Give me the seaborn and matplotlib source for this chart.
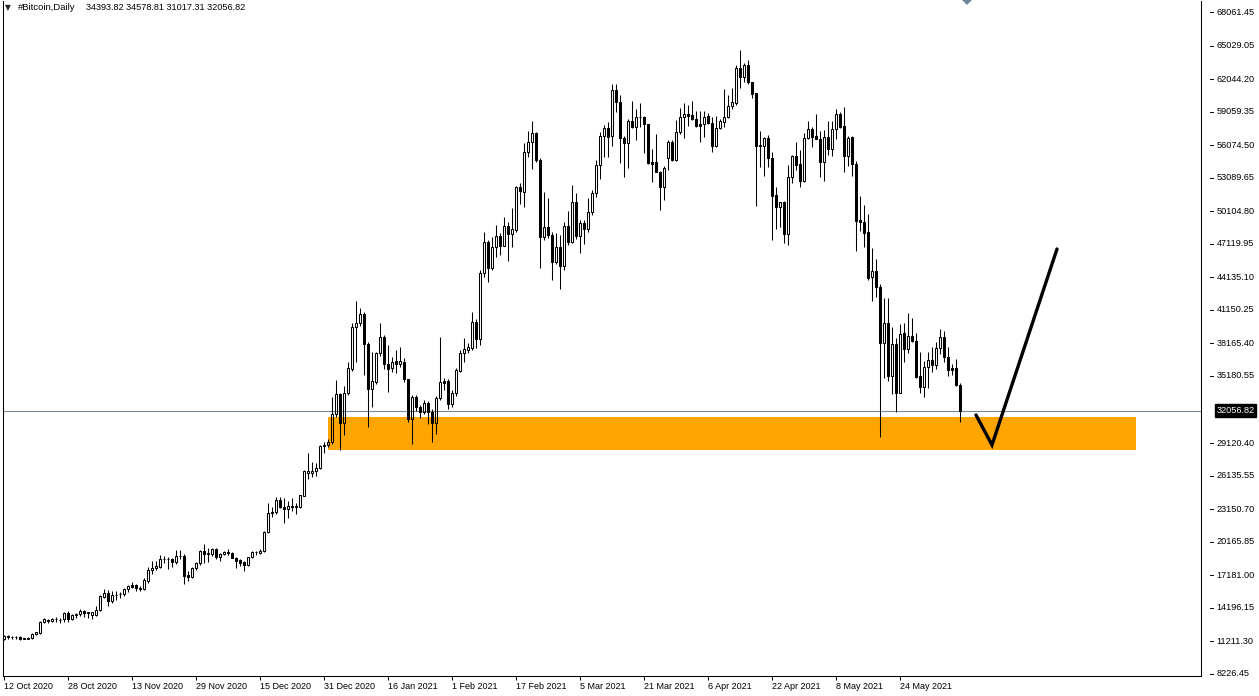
import numpy as np
import matplotlib
matplotlib.use("Agg")
import matplotlib.pyplot as plt
import matplotlib.transforms as mtransforms
from matplotlib.patches import Polygon
import seaborn as sns

# daily candles, day 0 = 12 Oct 2020
opens = [11350, 11650, 11580, 11543, 11604, 11420, 11420, 11453, 11815, 11905,
         12900, 13150, 12980, 13201, 13150, 13171, 13714, 13201, 13600, 13624,
         13955, 13774, 13563, 13563, 14016, 15222, 15583, 14830, 15372, 15433,
         15433, 15915, 16277, 16277, 16036, 15885, 16669, 17634, 17784, 17935,
         18628, 18640, 18598, 18387, 18900, 18900, 17181, 17031, 17784, 18236,
         19382, 19081, 19081, 19503, 18779, 19081, 19292, 19201, 18749, 18538,
         18387, 18086, 18779, 19231, 19201, 19382, 21101, 22759, 22850, 23965,
         23362, 23121, 23422, 23362, 23362, 24357, 26437, 26377, 26618, 26829,
         28849, 28940, 29181, 31744, 33523, 30960, 33673, 35784, 39583, 39945,
         40789, 38045, 33975, 34668, 37231, 38678, 36236, 35874, 36538, 36236,
         36477, 34880, 31261, 33312, 32347, 31955, 32709, 31955, 30960, 33161,
         34729, 34729, 32618, 33613, 35663, 37231, 37532, 37683, 40035, 38497,
         44527, 47271, 44919, 46879, 47844, 46969, 48748, 48025, 48387, 52306,
         51854, 55412, 56316, 57130, 54718, 47784, 48688, 47934, 45522, 46819,
         45160, 48748, 47331, 50889, 47844, 48989, 48447, 49985, 51763, 54266,
         56889, 57582, 56919, 61050, 59934, 56738, 56286, 58246, 57733, 58577,
         58577, 57944, 54507, 54507, 53603, 52306, 54869, 56316, 54718, 57221,
         58577, 58879, 58788, 58427, 57944, 57944, 58698, 58095, 56014, 57582,
         58185, 58577, 59602, 59844, 63009, 62256, 63311, 61743, 60748, 56014,
         56014, 56678, 54869, 51552, 50437, 50949, 48025, 53150, 55080, 54356,
         52849, 56678, 57492, 56889, 56647, 54567, 56768, 55713, 57492, 58848,
         57793, 55080, 56768, 54356, 49290, 49140, 48233, 44163, 44678, 43260,
         38194, 39948, 35180, 38075, 33671, 39040, 37593, 38799, 38374, 35180,
         34215, 35967, 36628, 36176, 37685, 38680, 36927, 35877, 35877, 34393.82]
highs = [11750, 11750, 11650, 11650, 11650, 11500, 11560, 11900, 12056, 13050,
         13262, 13200, 13250, 13352, 13262, 13865, 13955, 13624, 13774, 14076,
         14016, 13865, 13865, 14377, 15372, 15885, 15825, 15734, 15734, 15674,
         15975, 16277, 16578, 16367, 16186, 16880, 17935, 18478, 18448, 18990,
         18900, 18779, 18750, 19443, 19400, 19100, 17543, 17875, 18387, 19443,
         19955, 19593, 19593, 19593, 19201, 19382, 19503, 19292, 18840, 18629,
         18448, 18840, 19382, 19382, 19503, 21191, 23664, 23362, 24206, 24206,
         24116, 23905, 24116, 23724, 24417, 26678, 28186, 27432, 27300, 28940,
         29241, 29452, 33251, 34819, 33673, 34276, 36477, 40005, 41965, 41301,
         41000, 38300, 37382, 37382, 40005, 38900, 37985, 36930, 37532, 37834,
         36779, 34900, 33500, 33462, 32600, 33000, 32900, 32200, 33372, 38738,
         35000, 34900, 33900, 35900, 37532, 38588, 38136, 40940, 40300, 44768,
         48236, 47482, 47784, 48839, 48085, 49592, 49140, 50346, 52366, 52607,
         56226, 57371, 58246, 57281, 54900, 51854, 51251, 48236, 48085, 47934,
         49140, 50105, 52457, 51703, 49300, 49300, 51251, 52000, 54718, 57281,
         57884, 58185, 61592, 61592, 60597, 56900, 58396, 60055, 59301, 59844,
         58700, 58000, 55713, 57070, 53700, 54176, 56527, 56527, 58336, 59391,
         59844, 59693, 60055, 59150, 59150, 59150, 58939, 58637, 58698, 58396,
         61110, 60597, 61200, 63311, 64667, 63462, 63763, 61800, 60748, 57371,
         56828, 56979, 55472, 52306, 50950, 51000, 54266, 55170, 56376, 55622,
         57190, 58245, 57673, 58879, 57341, 57431, 58245, 58245, 59331, 59090,
         59542, 56889, 56900, 54627, 51462, 50648, 49805, 46730, 45764, 43475,
         42209, 42209, 39640, 38589, 39885, 39948, 40852, 40400, 39100, 37320,
         36565, 37380, 37830, 38283, 39432, 39250, 37830, 36300, 36690, 34578.81]
lows = [11300, 11400, 11420, 11400, 11300, 11350, 11350, 11420, 11760, 11880,
        12809, 12800, 12950, 12960, 12809, 12960, 12900, 13111, 13262, 13503,
        13413, 13262, 13201, 13503, 13955, 15071, 14377, 14679, 14920, 15071,
        15282, 15674, 15975, 15764, 15764, 15825, 16428, 17242, 17634, 17784,
        18297, 17694, 17935, 18200, 18600, 16337, 16600, 16940, 17600, 18086,
        18236, 18387, 18900, 18600, 18478, 18950, 19000, 18689, 17784, 18000,
        17573, 18000, 18689, 19000, 19100, 19292, 21000, 22458, 22700, 23200,
        21915, 22307, 23000, 22699, 23200, 24300, 25900, 26015, 26100, 26800,
        28200, 28800, 29000, 31500, 28487, 29844, 33500, 35600, 36477, 39700,
        35271, 30598, 32407, 34500, 37000, 35800, 33764, 35500, 35422, 36000,
        34600, 31050, 29000, 32000, 31400, 31700, 30809, 29241, 29935, 33000,
        33900, 32165, 32400, 33400, 35500, 36477, 37300, 37500, 37683, 37985,
        44165, 43713, 44800, 45975, 46125, 46900, 45613, 46879, 48236, 50738,
        50497, 54959, 53874, 54500, 44919, 47500, 47700, 43864, 45300, 43050,
        44768, 47000, 47200, 47600, 46336, 47090, 48200, 49700, 51401, 52969,
        55020, 55020, 55984, 59090, 54477, 53211, 53965, 57600, 56527, 57673,
        55321, 54356, 52758, 53600, 50196, 51100, 53814, 54600, 54600, 57100,
        56738, 57824, 58300, 57673, 56376, 56768, 58000, 55411, 55900, 57500,
        57673, 58500, 59331, 59700, 61200, 61803, 61600, 60300, 50587, 54115,
        53301, 54115, 47482, 48447, 48628, 47180, 47030, 52607, 53813, 52245,
        52758, 56587, 55924, 56600, 53210, 52849, 55170, 55110, 56587, 57580,
        53663, 54175, 53271, 46487, 48296, 46877, 43864, 41992, 42355, 29690,
        34973, 34700, 33526, 31897, 33600, 36420, 37231, 38300, 35030, 33610,
        33309, 34070, 35515, 35814, 37170, 36475, 35210, 35300, 34300, 31017.31]
closes = [11700, 11600, 11543, 11560, 11393, 11453, 11513, 11845, 11996, 12900,
          13201, 12980, 13201, 13180, 13111, 13714, 13201, 13563, 13624, 13955,
          13774, 13805, 13805, 14016, 15282, 15583, 14830, 15372, 15400, 15463,
          15915, 16186, 16126, 15975, 15885, 16729, 17634, 17845, 18025, 18628,
          18640, 18628, 18387, 18900, 18880, 17121, 17031, 17784, 18236, 19382,
          19081, 19201, 19503, 18779, 19081, 19292, 19141, 18749, 18478, 18297,
          18086, 18779, 19231, 19250, 19382, 21101, 22759, 22850, 23965, 23362,
          23121, 23422, 23362, 23422, 24417, 26618, 26588, 26618, 26829, 28849,
          28940, 29181, 31744, 33553, 30960, 33673, 35874, 39583, 40005, 40789,
          38045, 33975, 34759, 37291, 38678, 36236, 35814, 36477, 36236, 36538,
          34880, 31261, 33312, 32347, 31955, 32709, 31955, 30960, 33221, 34608,
          34518, 32618, 33613, 35724, 37291, 37593, 37834, 40035, 38497, 44527,
          47271, 44919, 46879, 47844, 46969, 48748, 48025, 48477, 52246, 51914,
          55472, 56316, 57130, 54718, 47784, 48688, 47934, 45522, 46819, 45160,
          48748, 47331, 50889, 47844, 48989, 48447, 49985, 51763, 54266, 56889,
          57582, 56828, 61050, 59934, 56678, 56286, 58246, 57733, 58577, 58600,
          57944, 54417, 54356, 53663, 52306, 54025, 56316, 54718, 57221, 58577,
          58879, 58698, 58427, 57824, 57824, 58637, 58095, 56014, 57582, 58246,
          58577, 59602, 59934, 63009, 62256, 63311, 61743, 60658, 56014, 56074,
          56678, 54869, 51462, 50437, 50889, 48025, 53150, 55080, 54266, 52849,
          56678, 57492, 56828, 56647, 54567, 56768, 55713, 57492, 58848, 57733,
          55080, 56738, 54356, 49200, 49140, 48142, 44017, 44678, 43202, 38194,
          39948, 35180, 38075, 33671, 38980, 37593, 38799, 38374, 35119, 34215,
          35967, 36628, 36176, 37685, 38680, 36927, 35724, 35724, 34367, 32056.82]

date_labels = ["12 Oct 2020", "28 Oct 2020", "13 Nov 2020", "29 Nov 2020",
               "15 Dec 2020", "31 Dec 2020", "16 Jan 2021", "1 Feb 2021",
               "17 Feb 2021", "5 Mar 2021", "21 Mar 2021", "6 Apr 2021",
               "22 Apr 2021", "8 May 2021", "24 May 2021"]
date_label_days = [0, 16, 32, 48, 64, 80, 96, 112, 128, 144, 160, 176, 192, 208, 224]

price_labels = [68061.45, 65029.05, 62044.20, 59059.35, 56074.50, 53089.65,
                50104.80, 47119.95, 44135.10, 41150.25, 38165.40, 35180.55,
                29120.40, 26135.55, 23150.70, 20165.85, 17181.00, 14196.15,
                11211.30, 8226.45]

symbol = "#Bitcoin,Daily"
last_price = 32056.82

# support zone and the drawn projection
zone_days = [81, 283]
zone_prices = [28487, 31473]
path_days = [243, 247, 263.25]
path_prices = [31653, 28940, 46668]

W, H = 1259, 696
sns.set_theme(style="white")
plt.rcParams["font.family"] = ["Liberation Sans", "DejaVu Sans"]

fig = plt.figure(figsize=(W / 100, H / 100), dpi=100)
fig.patch.set_facecolor("white")
ax = fig.add_axes([3 / W, 20 / H, 1198 / W, 675 / H])
ax.set_facecolor("white")

o = np.array(opens, dtype=float)
h = np.array(highs, dtype=float)
l = np.array(lows, dtype=float)
c = np.array(closes, dtype=float)
days = np.arange(len(o))
top = np.maximum(o, c)
bot = np.minimum(o, c)
bull = c >= o

lw = 0.75
# zone + bid line behind the candles
ax.fill_between(zone_days, zone_prices[0], zone_prices[1], color="#FFA500", lw=0, zorder=1)
ax.axhline(last_price, color="#778899", lw=lw, zorder=1.5)

# wicks (split so hollow bodies stay empty)
ax.vlines(days, top, np.maximum(h, top), color="black", lw=lw, zorder=3)
ax.vlines(days, np.minimum(l, bot), bot, color="black", lw=lw, zorder=3)
body_h = np.maximum(top - bot, 1.0)
ax.bar(days[bull], body_h[bull], bottom=bot[bull], width=0.5, facecolor="none",
       edgecolor="black", linewidth=lw, zorder=3.5)
ax.bar(days[~bull], body_h[~bull], bottom=bot[~bull], width=0.5, facecolor="black",
       edgecolor="black", linewidth=lw, zorder=3.5)

# hand-drawn V projection
sns.lineplot(x=path_days, y=path_prices, sort=False, color="black", lw=2.4,
             ax=ax, zorder=5, solid_joinstyle="miter")

ax.set_xlim(-0.25, 299.25)
ax.set_ylim(8045.55, 69099.3)

ax.spines["top"].set_visible(False)
for s in ["left", "right", "bottom"]:
    ax.spines[s].set_color("black")
    ax.spines[s].set_linewidth(lw)

ax.set_yticks([])
ax.set_xticks(date_label_days)
ax.set_xticklabels(date_labels, ha="left")
ax.tick_params(axis="x", direction="out", length=3, width=lw, pad=1.5,
               labelsize=6.5, colors="black", bottom=True)

# right price scale (MT4 style: detached dashes + labels)
trans = mtransforms.blended_transform_factory(ax.transAxes, ax.transData)
for v in price_labels:
    ax.plot([1 + 8.5 / 1198, 1 + 12 / 1198], [v, v], transform=trans,
            clip_on=False, color="black", lw=lw)
    ax.text(1 + 15.5 / 1198, v, f"{v:.2f}", transform=trans, ha="left",
            va="center", fontsize=6.6, color="black")
ax.text(1 + 15.5 / 1198, last_price, f"{last_price:.2f}", transform=trans,
        ha="left", va="center", fontsize=6.6, color="white",
        bbox=dict(boxstyle="square,pad=0.18", facecolor="black", edgecolor="black"))

# header
fig.text(5 / W, 1 - 7.5 / H, "▼", fontsize=5.5, ha="left", va="center",
         family=["DejaVu Sans"])
fig.text(18 / W, 1 - 7.5 / H, symbol, fontsize=6.8, ha="left", va="center",
         color="black")
fig.text(86 / W, 1 - 7.5 / H,
         f"{opens[-1]:.2f} {highs[-1]:.2f} {lows[-1]:.2f} {closes[-1]:.2f}",
         fontsize=6.6, ha="left", va="center", color="black")

# chart shift marker at the top
fig.patches.append(Polygon([[962 / W, 1.0], [972 / W, 1.0], [967 / W, 1 - 5 / H]],
                           closed=True, transform=fig.transFigure,
                           facecolor="#6F86A0", edgecolor="none"))

fig.savefig("out.png", dpi=100, facecolor="white")
